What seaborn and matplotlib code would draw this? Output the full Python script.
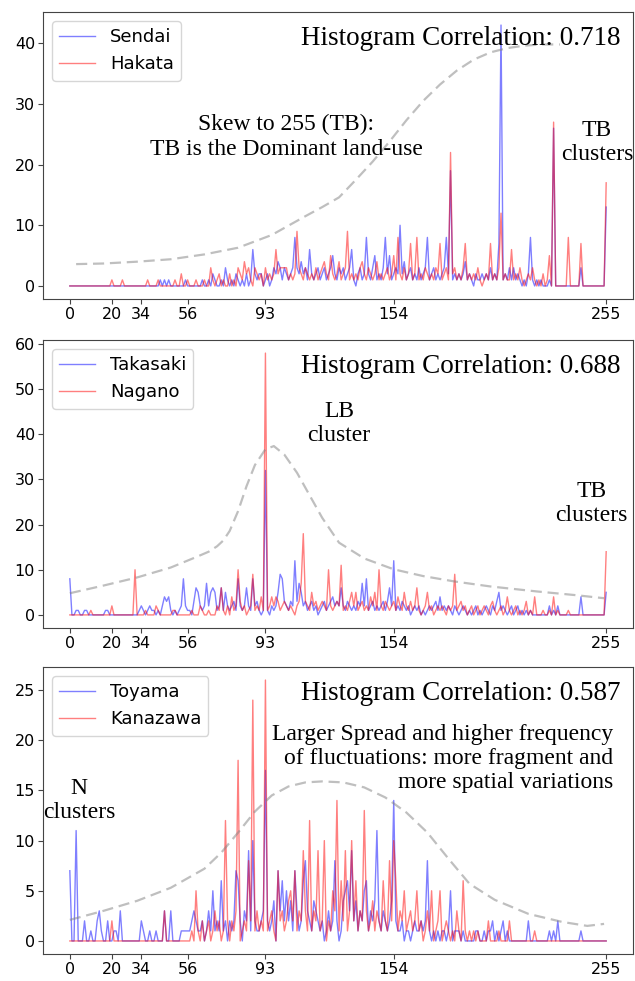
import numpy as np
import pandas as pd
import matplotlib
matplotlib.use("Agg")
import matplotlib.pyplot as plt
import seaborn as sns

# ---------------- data (sparse: bin -> pixel count, other bins are 0) ----------------
bins = list(range(256))
xticks = [0, 20, 34, 56, 93, 154, 255]

sendai = {43:1, 45:1, 47:1, 55:1, 63:1, 66:1, 68:2, 69:1, 72:1, 74:3, 75:1, 77:1, 79:2, 80:1, 82:1, 84:2,
          86:1, 87:6, 88:2, 89:1, 90:2, 91:2, 93:1, 94:2, 96:1, 97:3, 98:2, 99:4, 100:3, 101:1, 102:3, 103:2,
          104:1, 105:2, 106:3, 107:8, 108:3, 109:2, 110:4, 111:2, 112:3, 113:1, 114:6, 115:2, 116:1, 117:2,
          118:3, 119:1, 120:2, 121:3, 122:1, 123:2, 124:3, 125:5, 126:2, 127:1, 128:3, 129:2, 130:3, 131:1,
          132:2, 133:3, 134:6, 135:1, 137:2, 138:3, 139:1, 140:2, 141:8, 142:2, 143:1, 144:3, 145:5, 146:1,
          147:2, 148:1, 149:3, 150:8, 151:2, 152:5, 153:1, 154:2, 155:3, 156:2, 157:10, 158:2, 159:4, 160:1,
          161:2, 162:3, 163:1, 164:2, 165:1, 166:3, 167:1, 168:2, 169:3, 170:8, 171:1, 172:2, 173:3, 174:1,
          175:2, 176:1, 177:2, 178:3, 179:8, 180:2, 181:19, 182:1, 183:2, 184:1, 185:2, 186:1, 187:2, 188:4,
          189:1, 190:2, 191:1, 193:2, 194:1, 195:1, 196:2, 197:1, 198:2, 199:1, 200:3, 201:1, 202:2, 203:1,
          204:7, 205:43, 206:1, 207:2, 208:1, 209:3, 210:1, 211:3, 212:1, 213:2, 214:1, 216:1, 218:2, 219:8,
          220:1, 222:1, 224:1, 228:1, 230:26, 243:3, 255:13}
hakata = {20:1, 25:1, 37:1, 42:1, 50:1, 53:2, 56:1, 60:1, 64:1, 67:3, 68:1, 70:1, 71:2, 73:1, 76:2, 78:1,
          80:3, 81:2, 82:1, 83:4, 84:2, 85:3, 86:1, 88:3, 89:2, 90:1, 91:2, 93:3, 94:1, 95:2, 96:1, 97:2,
          98:6, 99:2, 100:3, 101:3, 102:3, 103:3, 104:1, 105:2, 106:1, 107:2, 108:9, 109:3, 110:2, 111:1,
          112:3, 113:2, 114:1, 115:2, 116:1, 117:3, 118:1, 119:2, 120:3, 121:4, 122:2, 123:1, 124:5, 125:2,
          126:1, 127:2, 128:4, 129:1, 130:2, 131:3, 132:9, 133:1, 134:2, 135:1, 136:2, 137:1, 138:3, 139:4,
          140:2, 141:1, 142:3, 143:2, 144:1, 145:2, 146:4, 147:1, 148:2, 149:1, 150:2, 151:3, 152:1, 153:2,
          154:5, 155:1, 156:8, 157:2, 158:1, 159:3, 160:1, 161:2, 162:7, 163:1, 164:2, 165:8, 166:1, 167:2,
          168:1, 169:3, 170:2, 171:1, 172:2, 173:1, 174:3, 175:2, 176:7, 177:1, 178:2, 179:3, 180:1, 181:22,
          182:2, 183:3, 184:1, 185:2, 186:1, 187:3, 188:7, 189:1, 190:2, 191:1, 192:2, 193:1, 194:3, 195:1,
          197:1, 198:2, 199:1, 200:7, 201:1, 202:2, 203:1, 204:3, 205:12, 206:1, 207:2, 208:1, 209:1, 210:6,
          211:1, 212:2, 213:1, 214:3, 215:1, 217:1, 218:2, 219:1, 220:3, 221:1, 223:1, 225:2, 227:1, 228:5,
          230:27, 237:8, 243:7, 255:17}

takasaki = {0:8, 3:1, 4:1, 7:1, 8:1, 17:1, 18:1, 33:1, 34:2, 35:1, 37:1, 38:2, 39:1, 40:1, 42:1, 44:2, 45:4,
            46:3, 47:4, 48:1, 50:1, 52:1, 53:2, 54:8, 55:2, 56:1, 57:1, 59:3, 60:6, 61:5, 62:2, 63:1, 64:2,
            65:7, 66:2, 67:5, 68:6, 69:5, 70:1, 71:2, 72:6, 73:1, 74:5, 75:2, 76:1, 77:2, 78:3, 79:1, 80:8,
            81:2, 82:1, 83:2, 84:6, 85:2, 86:1, 87:8, 88:2, 89:3, 90:1, 92:1, 93:32, 94:1, 96:2, 97:1, 98:2,
            99:5, 100:9, 101:8, 102:3, 103:2, 104:1, 105:3, 106:2, 107:12, 108:3, 109:7, 110:5, 111:2, 112:3,
            113:1, 114:2, 115:3, 116:1, 117:2, 119:1, 120:2, 121:3, 122:1, 123:2, 124:3, 125:4, 126:2, 127:3,
            128:2, 129:6, 130:2, 131:1, 132:3, 133:2, 134:1, 135:2, 136:1, 137:3, 138:2, 139:7, 140:2, 141:8,
            142:1, 143:2, 144:3, 145:1, 146:2, 147:1, 148:2, 149:3, 150:1, 151:3, 152:6, 153:2, 154:12, 155:1,
            156:2, 157:1, 158:3, 159:2, 160:1, 161:2, 163:1, 164:2, 165:1, 166:2, 168:1, 170:1, 171:2, 172:1,
            173:2, 174:3, 175:1, 176:4, 177:1, 178:2, 179:1, 180:2, 181:1, 183:2, 184:1, 186:1, 187:2, 188:1,
            190:1, 192:1, 193:2, 195:1, 197:1, 198:2, 199:1, 201:2, 202:1, 203:3, 204:5, 205:1, 206:2, 207:1,
            209:1, 210:2, 212:1, 213:2, 215:1, 217:1, 219:1, 228:2, 230:1, 232:2, 243:4, 255:5}
nagano = {10:1, 20:2, 31:10, 36:1, 41:2, 42:1, 49:1, 50:1, 58:1, 62:2, 63:1, 66:1, 70:2, 71:1, 72:6, 73:1,
          75:2, 77:4, 78:1, 79:2, 80:10, 81:3, 82:1, 83:2, 85:1, 86:2, 87:9, 88:1, 89:2, 90:1, 91:4, 92:1,
          93:58, 94:1, 95:2, 96:4, 97:2, 98:4, 99:3, 100:1, 101:2, 102:3, 103:2, 104:1, 105:2, 106:1, 108:2,
          109:3, 110:7, 111:18, 112:3, 113:2, 114:1, 115:5, 116:2, 117:3, 118:1, 119:2, 120:3, 121:2, 122:1,
          123:10, 124:2, 125:1, 126:2, 127:3, 128:2, 129:11, 130:1, 131:2, 132:1, 133:3, 134:5, 135:2, 136:5,
          137:1, 138:2, 139:3, 140:1, 141:2, 142:1, 143:4, 144:2, 145:5, 146:1, 147:10, 148:2, 149:1, 150:3,
          151:2, 152:1, 153:2, 154:3, 155:1, 156:4, 157:2, 158:1, 159:5, 160:2, 161:1, 162:3, 163:1, 164:2,
          165:6, 166:1, 168:1, 169:2, 170:5, 171:1, 172:2, 174:1, 175:2, 176:1, 177:2, 178:1, 180:2, 181:1,
          182:2, 183:9, 184:1, 185:2, 186:3, 187:1, 188:2, 190:1, 191:2, 193:1, 194:2, 196:1, 197:2, 198:1,
          200:2, 201:3, 202:1, 204:1, 205:2, 207:1, 208:4, 209:1, 211:1, 212:2, 214:1, 216:1, 217:3, 219:1,
          221:4, 225:1, 228:1, 230:4, 232:1, 237:1, 255:14}

toyama = {0:7, 3:11, 7:2, 10:1, 13:2, 14:3, 15:1, 18:2, 21:1, 22:1, 24:3, 34:2, 35:1, 38:1, 41:1, 45:3,
          48:3, 53:1, 54:1, 55:1, 56:1, 57:1, 58:2, 59:3, 60:2, 61:1, 62:1, 63:2, 65:1, 66:3, 67:1, 68:5,
          69:1, 70:2, 71:1, 72:6, 73:1, 74:2, 76:2, 77:1, 78:2, 79:7, 80:6, 81:2, 83:3, 84:2, 85:9, 86:1,
          87:10, 88:2, 89:1, 90:1, 91:2, 92:3, 93:17, 94:2, 95:1, 96:2, 97:4, 99:7, 100:3, 101:6, 102:2,
          103:5, 104:2, 105:4, 106:1, 107:7, 108:3, 109:1, 110:2, 111:6, 112:8, 113:3, 114:2, 115:1, 116:4,
          117:3, 118:2, 119:1, 120:2, 122:1, 123:3, 124:1, 125:2, 126:8, 127:2, 129:1, 130:4, 131:5, 132:6,
          133:3, 134:9, 135:2, 136:4, 137:1, 138:3, 139:2, 140:5, 141:6, 142:1, 143:3, 144:2, 145:4, 146:11,
          147:2, 148:1, 149:3, 150:2, 151:1, 152:2, 153:4, 154:14, 155:2, 156:1, 157:1, 158:2, 160:1, 161:1,
          163:1, 164:2, 165:1, 166:1, 167:2, 168:1, 169:2, 170:8, 171:1, 173:1, 175:1, 177:1, 178:1, 180:1,
          181:5, 183:1, 184:1, 185:1, 187:1, 193:1, 194:1, 197:1, 199:1, 200:1, 201:2, 203:1, 205:1, 206:2,
          208:1, 218:2, 228:1, 230:1, 232:2, 243:1}
kanazawa = {20:2, 45:3, 58:1, 60:5, 61:1, 63:2, 65:1, 66:2, 68:1, 69:3, 70:1, 71:2, 73:1, 74:12, 75:2,
            77:2, 78:1, 79:3, 80:18, 82:1, 83:2, 84:1, 85:8, 86:2, 87:24, 88:1, 89:3, 90:1, 91:2, 92:1, 93:26,
            94:1, 95:2, 96:3, 97:1, 99:7, 100:2, 101:3, 102:1, 103:2, 104:4, 105:5, 106:2, 107:7, 108:1, 109:3,
            110:2, 111:9, 112:3, 113:1, 114:12, 115:1, 116:3, 117:2, 118:9, 119:1, 120:2, 121:10, 123:2, 124:1,
            125:5, 126:3, 127:14, 128:1, 129:6, 130:2, 131:9, 132:1, 133:3, 134:10, 135:2, 136:6, 137:1, 138:3,
            139:2, 140:13, 141:3, 142:1, 143:2, 144:4, 145:1, 146:3, 147:2, 148:1, 149:6, 150:2, 151:1, 152:8,
            153:2, 154:10, 155:6, 156:1, 157:3, 158:2, 159:5, 160:1, 161:2, 162:3, 163:1, 164:2, 165:5, 166:1,
            167:2, 169:1, 170:3, 171:1, 172:5, 174:1, 175:2, 176:5, 178:1, 179:2, 180:1, 182:1, 184:3, 185:1,
            187:6, 188:1, 190:1, 192:1, 194:1, 199:2, 204:1, 209:2, 221:1}

# dashed trend curves (read at a few bins)
trend1_x = [3, 16, 32, 48, 64, 80, 96, 112, 120, 128, 136, 144, 152, 160, 168, 176, 184, 192, 200, 208, 216, 224, 233]
trend1_y = [3.6, 3.7, 4.0, 4.4, 5.2, 6.3, 8.4, 11.5, 13.0, 14.6, 17.5, 20.5, 23.8, 27.3, 30.5, 33.2, 35.5, 37.3,
            38.5, 39.2, 39.6, 39.8, 39.8]
trend2_x = [0, 16, 32, 48, 60, 66, 70, 73, 76, 80, 84, 88, 93, 97, 102, 108, 114, 120, 128, 140, 154, 168, 183,
            200, 222, 240, 254]
trend2_y = [4.8, 6.5, 8.3, 10.5, 12.8, 14.0, 15.2, 16.5, 18.6, 23.0, 28.5, 33.2, 36.7, 37.4, 35.5, 31.5, 26.5,
            21.5, 16.0, 12.5, 10.1, 8.6, 7.4, 6.3, 5.2, 4.4, 3.7]
trend3_x = [0, 16, 32, 48, 64, 72, 80, 88, 96, 104, 112, 120, 130, 140, 150, 160, 170, 180, 190, 202, 218, 234, 246, 254]
trend3_y = [2.1, 3.0, 4.0, 5.3, 7.2, 8.8, 10.8, 12.9, 14.5, 15.4, 15.8, 15.9, 15.8, 15.3, 14.3, 12.8, 10.8, 8.2,
            5.7, 4.1, 2.7, 1.9, 1.5, 1.7]

names = [("Sendai", "Hakata"), ("Takasaki", "Nagano"), ("Toyama", "Kanazawa")]
series = [(sendai, hakata), (takasaki, nagano), (toyama, kanazawa)]
trends = [(trend1_x, trend1_y), (trend2_x, trend2_y), (trend3_x, trend3_y)]
correlations = ["0.718", "0.688", "0.587"]


def dense(d):
    return [d.get(b, 0) for b in bins]


# ---------------- figure ----------------
W, H = 635, 981
fig = plt.figure(figsize=(W / 100, H / 100), dpi=100)
panel_px = [(12, 299), (340, 628), (667, 954)]
left_px, right_px = 43, 633

serif = "Liberation Serif"
axes = []
for i, (top, bot) in enumerate(panel_px):
    ax = fig.add_axes([left_px / W, 1 - bot / H, (right_px - left_px) / W, (bot - top) / H])
    axes.append(ax)
    a, b = series[i]
    n1, n2 = names[i]
    df = pd.DataFrame({"bin": bins, n1: dense(a), n2: dense(b)})
    sns.lineplot(data=df, x="bin", y=n1, color="blue", alpha=0.5, lw=1.0, label=n1, ax=ax)
    sns.lineplot(data=df, x="bin", y=n2, color="red", alpha=0.5, lw=1.0, label=n2, ax=ax)
    tx, ty = trends[i]
    sns.lineplot(x=tx, y=ty, color="gray", alpha=0.5, lw=1.6, dashes=False, ax=ax, legend=False)
    ax.lines[-1].set_dashes((5, 2.6))
    ax.set_xticks(xticks)
    ax.set_xlabel("")
    ax.set_ylabel("")
    ax.tick_params(labelsize=11.5, pad=2.2, color="#444444")
    for s in ax.spines.values():
        s.set_edgecolor("#444444")
    ax.margins(x=0.05, y=0.05)
    ax.legend(loc="upper left", fontsize=13)
    ax.text(0.978, 0.885, "Histogram Correlation: " + correlations[i], transform=ax.transAxes,
            ha="right", va="baseline", fontsize=19.5, family=serif)

# annotations
fs = 17
axes[0].text(0.412, 0.565, "Skew to 255 (TB):\nTB is the Dominant land-use", transform=axes[0].transAxes,
             ha="center", va="center", fontsize=fs, family=serif, linespacing=1.2)
axes[0].text(0.939, 0.544, "TB\nclusters", transform=axes[0].transAxes,
             ha="center", va="center", fontsize=fs, family=serif, linespacing=1.2)
axes[1].text(0.502, 0.710, "LB\ncluster", transform=axes[1].transAxes,
             ha="center", va="center", fontsize=fs, family=serif, linespacing=1.2)
axes[1].text(0.930, 0.431, "TB\nclusters", transform=axes[1].transAxes,
             ha="center", va="center", fontsize=fs, family=serif, linespacing=1.2)
axes[2].text(0.967, 0.682, "Larger Spread and higher frequency\nof fluctuations: more fragment and\nmore spatial variations",
             transform=axes[2].transAxes, ha="right", va="center", multialignment="right",
             fontsize=fs, family=serif, linespacing=1.2)
axes[2].text(0.061, 0.535, "N\nclusters", transform=axes[2].transAxes,
             ha="center", va="center", fontsize=fs, family=serif, linespacing=1.2)

fig.savefig("out.png", dpi=100)
